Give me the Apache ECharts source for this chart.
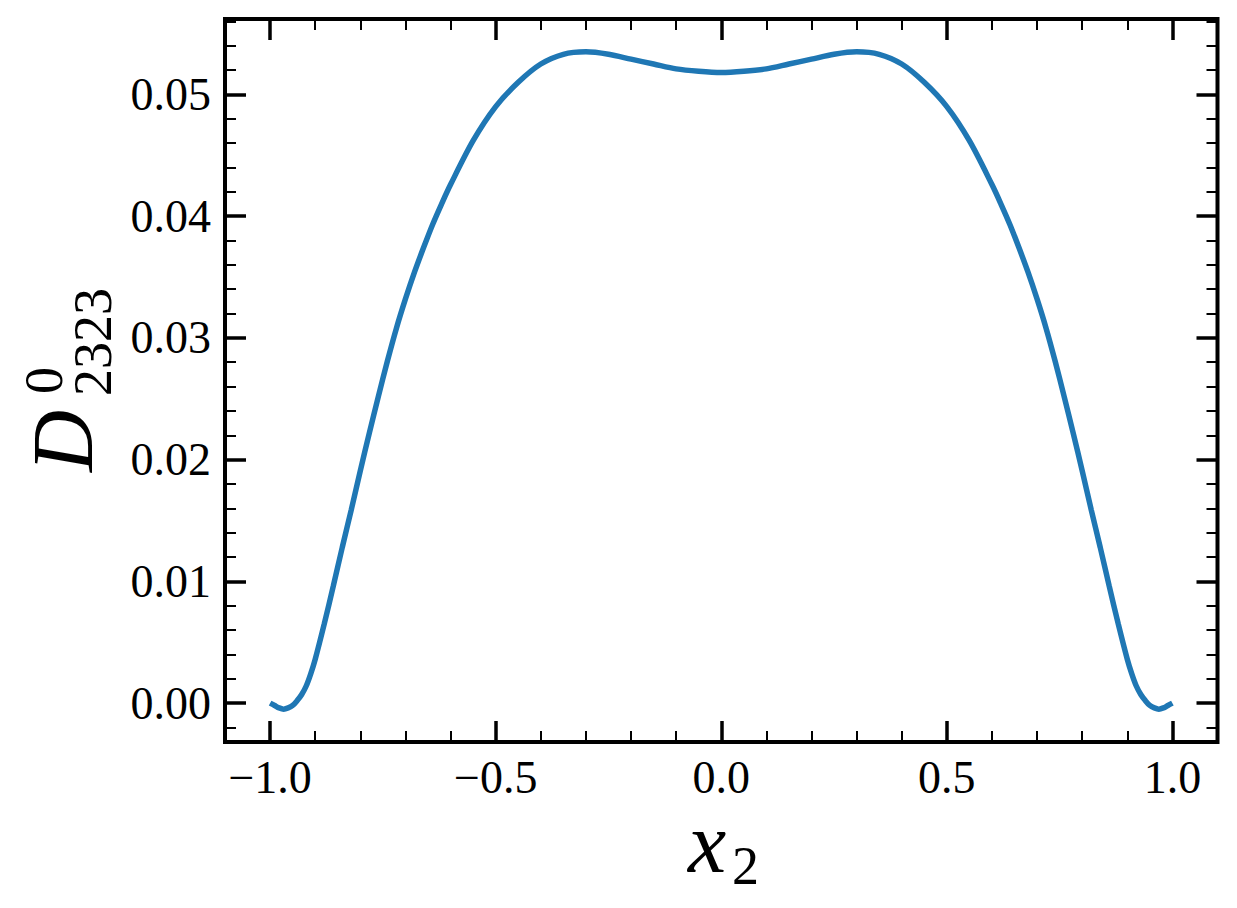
<!DOCTYPE html>
<html>
<head>
<meta charset="utf-8">
<title>D0 2323</title>
<script src="https://cdn.jsdelivr.net/npm/echarts@6/dist/echarts.min.js"></script>
<style>
  html, body { margin: 0; padding: 0; background: #fff; }
  #chart { width: 1237px; height: 908px; }
</style>
</head>
<body>
<div id="chart"></div>
<script>
// x2 positions and D0_2323 values
var xValues = [
  -1.00, -0.99, -0.98, -0.97, -0.96, -0.95, -0.94, -0.93, -0.92, -0.91,
  -0.90, -0.88, -0.86, -0.84, -0.82, -0.80, -0.78, -0.76, -0.74, -0.72,
  -0.70, -0.68, -0.66, -0.64, -0.62, -0.60, -0.55, -0.50, -0.45, -0.40,
  -0.35, -0.30, -0.25, -0.20, -0.15, -0.10, -0.05, 0.00,
  0.05, 0.10, 0.15, 0.20, 0.25, 0.30, 0.35, 0.40, 0.45, 0.50,
  0.55, 0.60, 0.62, 0.64, 0.66, 0.68, 0.70, 0.72, 0.74, 0.76,
  0.78, 0.80, 0.82, 0.84, 0.86, 0.88, 0.90, 0.91, 0.92, 0.93,
  0.94, 0.95, 0.96, 0.97, 0.98, 0.99, 1.00
]
var dValues = [
  0.0000, -0.0002, -0.0004, -0.0005, -0.0004, -0.0002, 0.0002, 0.0007, 0.0014, 0.0024,
  0.0036, 0.0065, 0.0096, 0.0128, 0.0159, 0.0191, 0.0222, 0.0252, 0.0281, 0.0308,
  0.0332, 0.0354, 0.0374, 0.0393, 0.0410, 0.0426, 0.0462, 0.0490, 0.0510, 0.0525,
  0.0533, 0.0535, 0.0533, 0.0529, 0.0525, 0.0521, 0.0519, 0.0518,
  0.0519, 0.0521, 0.0525, 0.0529, 0.0533, 0.0535, 0.0533, 0.0525, 0.0510, 0.0490,
  0.0462, 0.0426, 0.0410, 0.0393, 0.0374, 0.0354, 0.0332, 0.0308, 0.0281, 0.0252,
  0.0222, 0.0191, 0.0159, 0.0128, 0.0096, 0.0065, 0.0036, 0.0024, 0.0014, 0.0007,
  0.0002, -0.0002, -0.0004, -0.0005, -0.0004, -0.0002, 0.0000
]

// tick values
var xMajor = [-1.0, -0.5, 0.0, 0.5, 1.0]
var xMinor = [-0.9, -0.8, -0.7, -0.6, -0.4, -0.3, -0.2, -0.1,
              0.1, 0.2, 0.3, 0.4, 0.6, 0.7, 0.8, 0.9]
var yMajor = [0.00, 0.01, 0.02, 0.03, 0.04, 0.05]
var yMinor = [-0.002, 0.002, 0.004, 0.006, 0.008, 0.012, 0.014, 0.016, 0.018,
              0.022, 0.024, 0.026, 0.028, 0.032, 0.034, 0.036, 0.038,
              0.042, 0.044, 0.046, 0.048, 0.052, 0.054, 0.056]

var serif = '"Liberation Serif", "DejaVu Serif", serif'

function fmtX(v) {
  var s = Math.abs(v).toFixed(1)
  return v < 0 ? '\u2212' + s : s
}
function fmtY(v) {
  return v.toFixed(2)
}

function makeAxis(kind, position, ticks, len, width, labels) {
  var ax = {
    type: 'value',
    position: position,
    min: kind === 'x' ? -1.1 : -0.0032,
    max: kind === 'x' ? 1.1 : 0.0562,
    axisLine: { show: false, onZero: false },
    splitLine: { show: false },
    axisTick: {
      show: true,
      inside: true,
      length: len,
      customValues: ticks,
      lineStyle: { color: '#000', width: width }
    },
    axisLabel: { show: false }
  }
  if (labels) {
    ax.axisLabel = {
      show: true,
      customValues: ticks,
      margin: kind === 'x' ? 12 : 14,
      fontFamily: serif,
      fontSize: 46,
      color: '#000',
      formatter: kind === 'x' ? fmtX : fmtY
    }
  }
  return ax
}

const myChart = echarts.init(document.getElementById('chart'), null, { renderer: 'svg' })

const seriesData = xValues.map(function (x, i) { return [x, dValues[i]] })

const option = {
  backgroundColor: '#fff',
  animation: false,
  grid: {
    left: 225, right: 19.5, top: 19, bottom: 166,
    show: true,
    borderColor: '#000',
    borderWidth: 4,
    containLabel: false
  },
  xAxis: [
    makeAxis('x', 'bottom', xMajor, 21, 3.5, true),
    makeAxis('x', 'top', xMajor, 21, 3.5, false),
    makeAxis('x', 'bottom', xMinor, 11, 2, false),
    makeAxis('x', 'top', xMinor, 11, 2, false)
  ],
  yAxis: [
    makeAxis('y', 'left', yMajor, 21, 3.5, true),
    makeAxis('y', 'right', yMajor, 21, 3.5, false),
    makeAxis('y', 'left', yMinor, 11, 2, false),
    makeAxis('y', 'right', yMinor, 11, 2, false)
  ],
  series: [
    {
      type: 'line',
      xAxisIndex: 0,
      yAxisIndex: 0,
      data: seriesData,
      smooth: 0.3,
      showSymbol: false,
      symbol: 'none',
      lineStyle: { color: '#1f77b4', width: 5.5 }
    }
  ],
  graphic: [
    // x label: x_2
    {
      type: 'text', x: 688, y: 843,
      style: { text: 'x', font: 'italic 86px ' + serif, lineHeight: 50, fill: '#000', align: 'left', verticalAlign: 'middle' }
    },
    {
      type: 'text', x: 732, y: 866,
      style: { text: '2', font: '54px ' + serif, lineHeight: 40, fill: '#000', align: 'left', verticalAlign: 'middle' }
    },
    // y label: D^0_2323, rotated
    {
      type: 'text', x: 63, y: 472, rotation: Math.PI / 2,
      style: { text: 'D', font: 'italic 86px ' + serif, fill: '#000', align: 'left', verticalAlign: 'middle' }
    },
    {
      type: 'text', x: 44, y: 394, rotation: Math.PI / 2,
      style: { text: '0', font: '54px ' + serif, fill: '#000', align: 'left', verticalAlign: 'middle' }
    },
    {
      type: 'text', x: 93, y: 396, rotation: Math.PI / 2,
      style: { text: '2323', font: '54px ' + serif, fill: '#000', align: 'left', verticalAlign: 'middle' }
    }
  ]
}

myChart.setOption(option)
</script>
</body>
</html>
